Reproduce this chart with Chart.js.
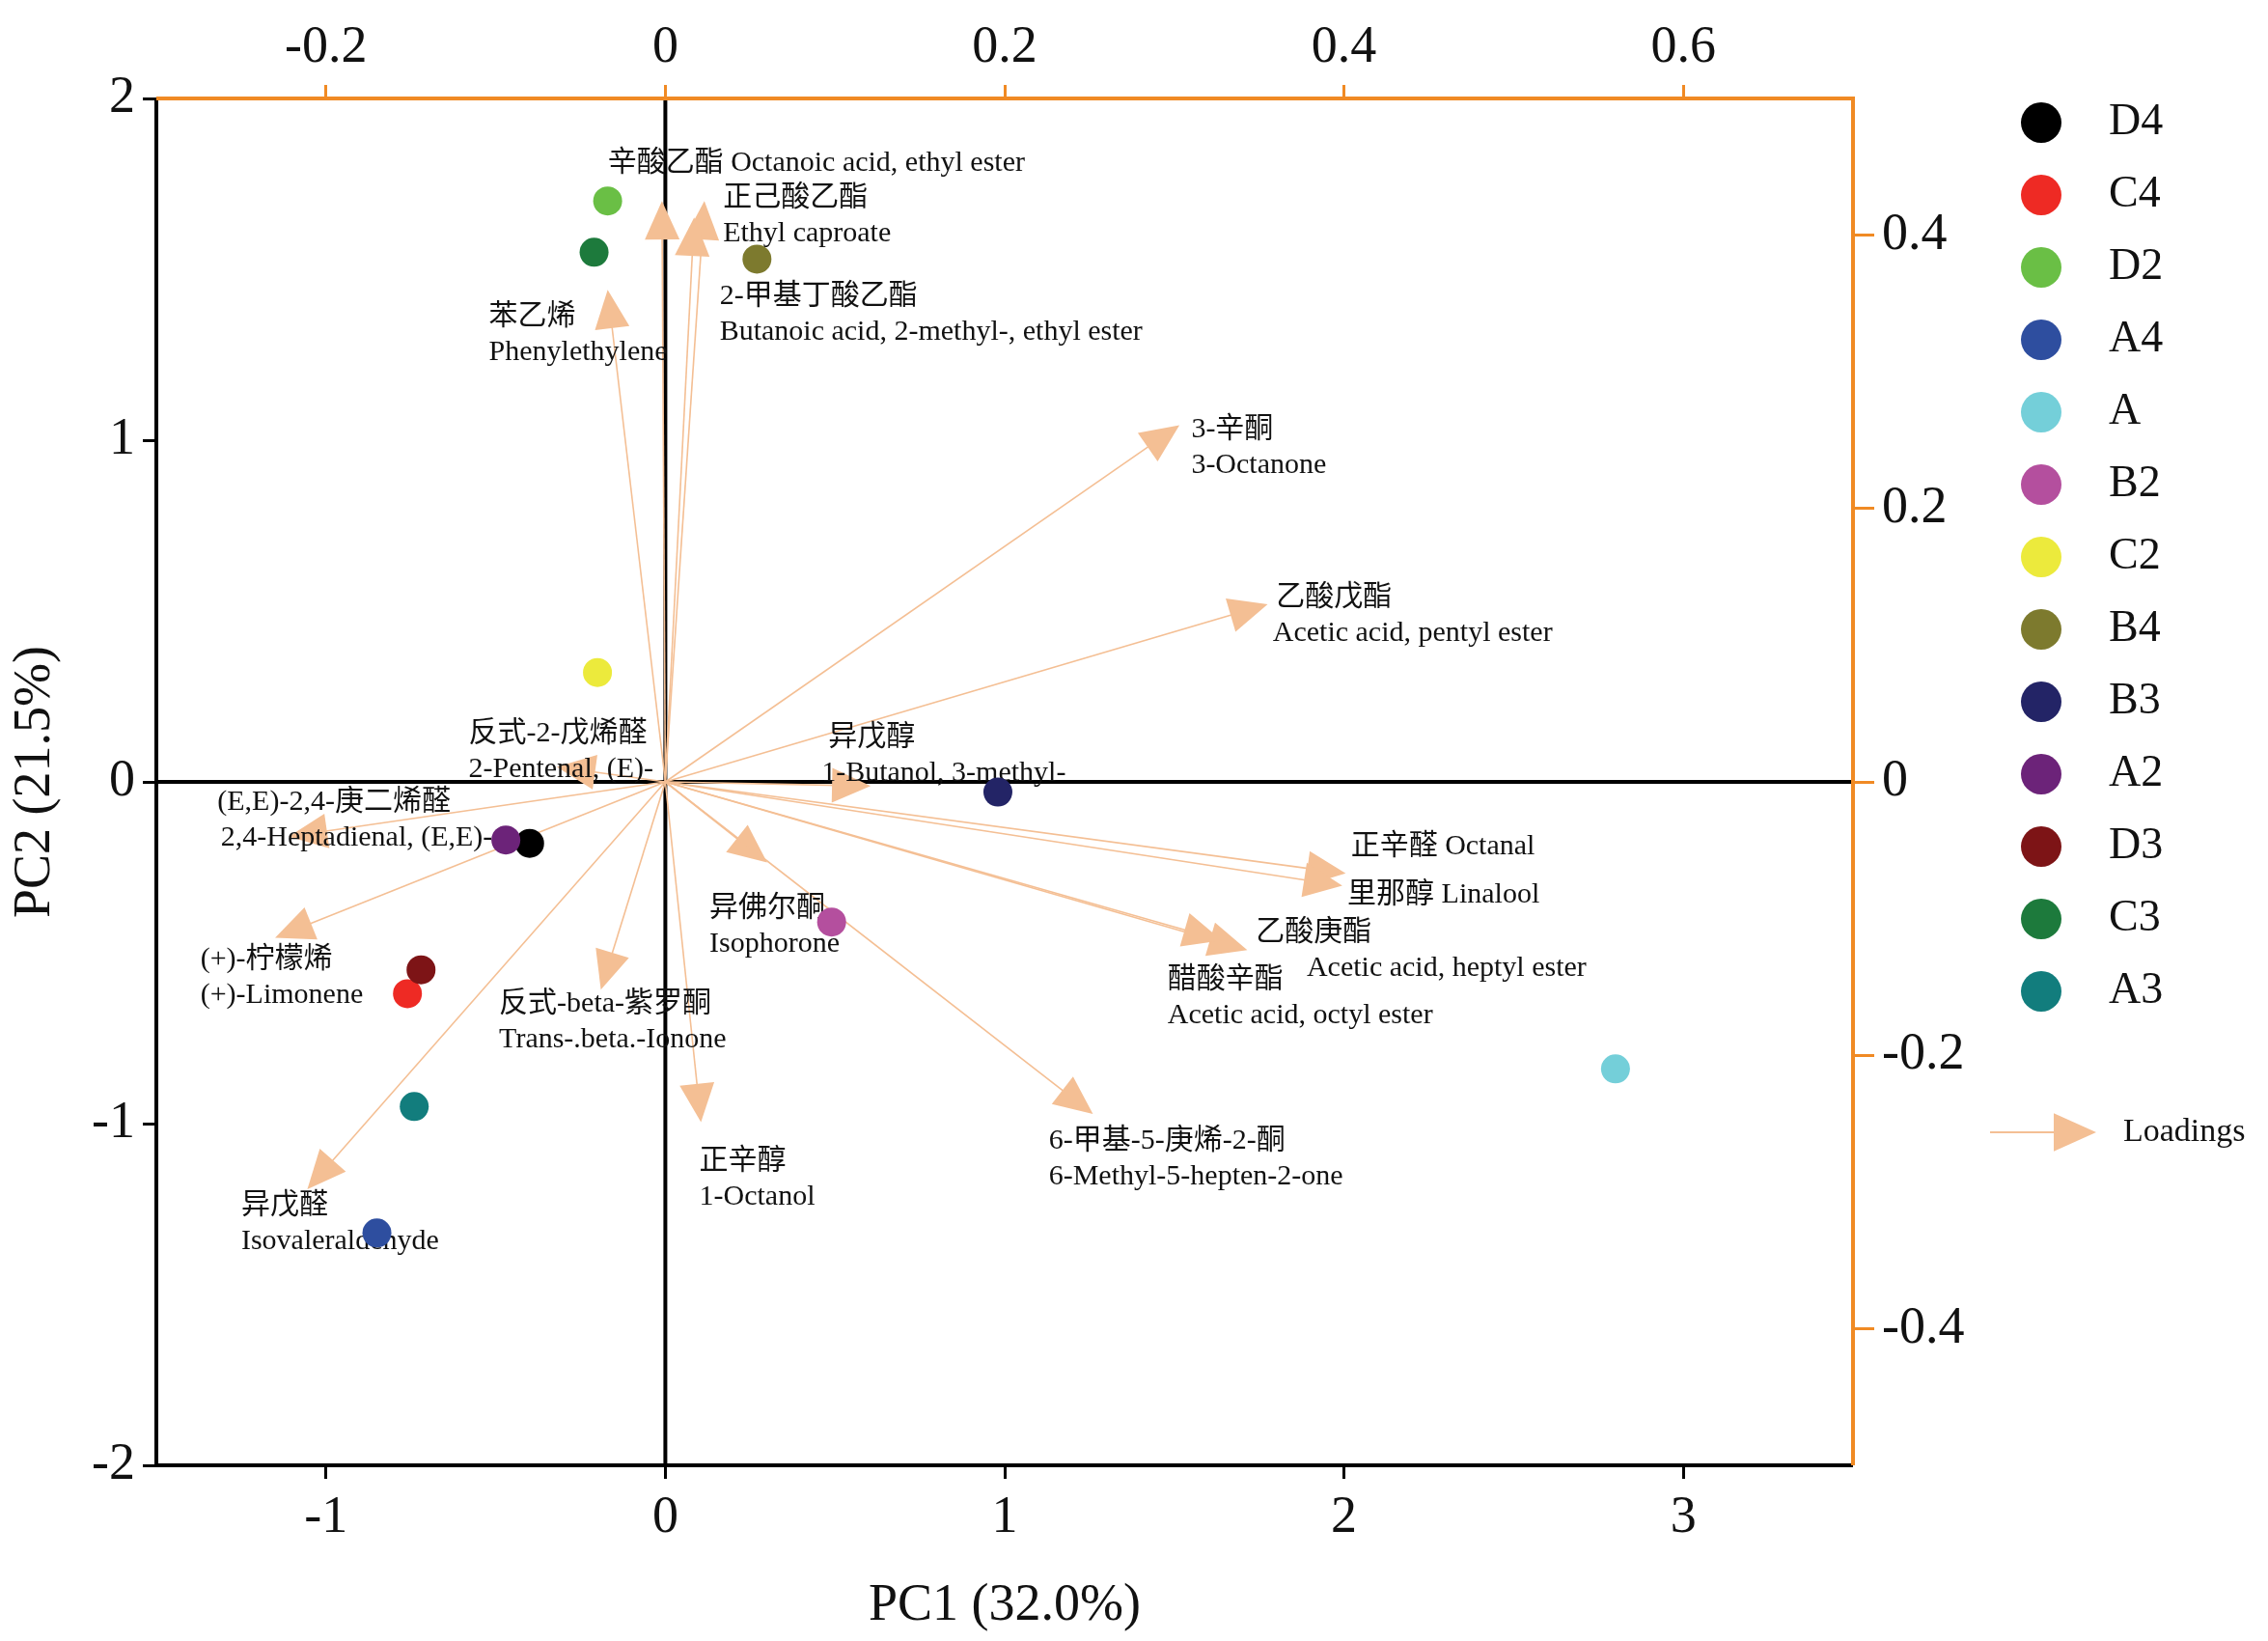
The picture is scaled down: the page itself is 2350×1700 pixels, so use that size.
<!DOCTYPE html>
<html>
<head>
<meta charset="utf-8">
<script src="https://cdn.jsdelivr.net/npm/chart.js@4"></script>
<style>
  html, body { margin: 0; padding: 0; background: #fff; }
  #wrap { width: 2350px; height: 1700px; }
</style>
</head>
<body>
<div id="wrap"><canvas id="biplot"></canvas></div>
<script>
// sample scores (PC1, PC2)
const sampleNames = ["D4", "C4", "D2", "A4", "A", "B2", "C2", "B4", "B3", "A2", "D3", "C3", "A3"];
const sampleColors = ["#000000", "#ee2a24", "#6abf45", "#2e4e9f", "#74cfd9", "#b44f9e", "#ecea3c", "#7d7a2e", "#232466", "#6c2379", "#7d1416", "#1d7a3c", "#127d7d"];
const scoreX = [-0.40, -0.76, -0.17, -0.85, 2.80, 0.49, -0.20, 0.27, 0.98, -0.47, -0.72, -0.21, -0.74];
const scoreY = [-0.18, -0.62, 1.70, -1.32, -0.84, -0.41, 0.32, 1.53, -0.03, -0.17, -0.55, 1.55, -0.95];

// loadings (top / right axes)
const loadingCn = ["辛酸乙酯 Octanoic acid, ethyl ester", "正己酸乙酯", "2-甲基丁酸乙酯", "苯乙烯", "3-辛酮", "乙酸戊酯", "异戊醇",
  "反式-2-戊烯醛", "(E,E)-2,4-庚二烯醛", "正辛醛 Octanal", "里那醇 Linalool", "乙酸庚酯", "醋酸辛酯", "异佛尔酮",
  "(+)-柠檬烯", "反式-beta-紫罗酮", "正辛醇", "6-甲基-5-庚烯-2-酮", "异戊醛"];
const loadingEn = ["", "Ethyl caproate", "Butanoic acid, 2-methyl-, ethyl ester", "Phenylethylene", "3-Octanone", "Acetic acid, pentyl ester",
  "1-Butanol, 3-methyl-", "2-Pentenal, (E)-", "2,4-Heptadienal, (E,E)-", "", "", "Acetic acid, heptyl ester", "Acetic acid, octyl ester",
  "Isophorone", "(+)-Limonene", "Trans-.beta.-Ionone", "1-Octanol", "6-Methyl-5-hepten-2-one", "Isovaleraldehyde"];
const loadingX = [-0.002, 0.023, 0.017, -0.034, 0.303, 0.355, 0.121, -0.064, -0.222, 0.401, 0.399, 0.343, 0.328, 0.060, -0.230, -0.038, 0.021, 0.252, -0.211];
const loadingY = [0.425, 0.425, 0.413, 0.360, 0.261, 0.130, -0.003, 0.011, -0.040, -0.067, -0.076, -0.123, -0.116, -0.059, -0.114, -0.152, -0.249, -0.243, -0.298];
// label anchors in score units (second line may shift right)
const labelX = [-0.17, 0.17, 0.16, -0.52, 1.55, 1.80, 0.48, -0.58, -1.32, 2.02, 2.01, 1.74, 1.48, 0.13, -1.37, -0.49, 0.10, 1.13, -1.25];
const labelY = [1.81, 1.71, 1.42, 1.36, 1.03, 0.54, 0.13, 0.14, -0.06, -0.19, -0.33, -0.44, -0.58, -0.37, -0.52, -0.65, -1.11, -1.05, -1.24];
const label2Shift = [0, 0, 0, 0, 0, -0.01, -0.02, 0, 0.01, 0, 0, 0.15, 0, 0, 0, 0, 0, 0, 0];

const ORANGE = "#f08a24";
const ARROW = "#f4bf94";
const SERIF = "'Liberation Serif', 'Noto Sans CJK SC', serif";

function drawArrow(ctx, x0, y0, x1, y1, head, lw) {
  const a = Math.atan2(y1 - y0, x1 - x0);
  ctx.strokeStyle = ARROW; ctx.fillStyle = ARROW; ctx.lineWidth = lw;
  ctx.beginPath(); ctx.moveTo(x0, y0); ctx.lineTo(x1 - Math.cos(a) * head * 0.8, y1 - Math.sin(a) * head * 0.8); ctx.stroke();
  ctx.beginPath();
  ctx.moveTo(x1, y1);
  ctx.lineTo(x1 - head * Math.cos(a) + head * 0.45 * Math.sin(a), y1 - head * Math.sin(a) - head * 0.45 * Math.cos(a));
  ctx.lineTo(x1 - head * Math.cos(a) - head * 0.45 * Math.sin(a), y1 - head * Math.sin(a) + head * 0.45 * Math.cos(a));
  ctx.closePath(); ctx.fill();
}

const biplotPlugin = {
  id: "biplot",
  beforeDatasetsDraw(chart) {
    const { ctx, chartArea: ca, scales } = chart;
    ctx.save();
    // zero lines
    ctx.strokeStyle = "#000"; ctx.lineWidth = 4;
    const x0 = scales.x.getPixelForValue(0), y0 = scales.y.getPixelForValue(0);
    ctx.beginPath(); ctx.moveTo(x0, ca.top); ctx.lineTo(x0, ca.bottom);
    ctx.moveTo(ca.left, y0); ctx.lineTo(ca.right, y0); ctx.stroke();
    // loading arrows
    loadingX.forEach((lx, i) => {
      drawArrow(ctx, scales.x2.getPixelForValue(0), scales.y2.getPixelForValue(0),
        scales.x2.getPixelForValue(lx), scales.y2.getPixelForValue(loadingY[i]), 40, 1.6);
    });
    // labels
    ctx.fillStyle = "#111"; ctx.font = "30px " + SERIF; ctx.textBaseline = "middle"; ctx.textAlign = "left";
    loadingCn.forEach((t, i) => {
      const px = scales.x.getPixelForValue(labelX[i]), py = scales.y.getPixelForValue(labelY[i]);
      ctx.fillText(t, px, py);
      if (loadingEn[i]) ctx.fillText(loadingEn[i], scales.x.getPixelForValue(labelX[i] + label2Shift[i]), py + 37);
    });
    ctx.restore();
  },
  afterDraw(chart) {
    const { ctx, chartArea: ca } = chart;
    ctx.save();
    // frame: left/bottom black, top/right orange
    ctx.lineWidth = 4;
    ctx.strokeStyle = "#000";
    ctx.beginPath(); ctx.moveTo(ca.left, ca.top); ctx.lineTo(ca.left, ca.bottom); ctx.lineTo(ca.right, ca.bottom); ctx.stroke();
    ctx.strokeStyle = ORANGE;
    ctx.beginPath(); ctx.moveTo(ca.left, ca.top); ctx.lineTo(ca.right, ca.top); ctx.lineTo(ca.right, ca.bottom); ctx.stroke();
    // legend
    ctx.font = "46px " + SERIF; ctx.textBaseline = "middle"; ctx.textAlign = "left";
    sampleNames.forEach((n, i) => {
      const y = 127 + i * 75;
      ctx.fillStyle = sampleColors[i];
      ctx.beginPath(); ctx.arc(2115, y, 21, 0, Math.PI * 2); ctx.fill();
      ctx.fillStyle = "#111"; ctx.fillText(n, 2185, y);
    });
    drawArrow(ctx, 2062, 1173, 2172, 1173, 44, 1.8);
    ctx.fillStyle = "#111"; ctx.font = "34px " + SERIF; ctx.fillText("Loadings", 2200, 1173);
    ctx.restore();
  }
};

const tickFont = { family: SERIF, size: 54 };

new Chart(document.getElementById("biplot"), {
  type: "scatter",
  data: {
    datasets: [{
      data: scoreX.map((x, i) => ({ x, y: scoreY[i] })),
      backgroundColor: sampleColors,
      borderWidth: 0,
      pointRadius: 15,
      xAxisID: "x", yAxisID: "y",
    }],
  },
  options: {
    responsive: true,
    maintainAspectRatio: false,
    animation: false,
    plugins: { legend: { display: false }, tooltip: { enabled: false } },
    layout: { padding: 0 },
    scales: {
      x: {
        position: "bottom", min: -1.5, max: 3.5,
        afterBuildTicks: s => { s.ticks = [-1, 0, 1, 2, 3].map(v => ({ value: v })); },
        afterFit: s => { s.height = 182; },
        grid: { drawOnChartArea: false, color: "#000", lineWidth: 3, tickLength: 14 },
        border: { display: false },
        ticks: { font: tickFont, color: "#111", padding: 8 },
        title: { display: true, text: "PC1 (32.0%)", font: { family: SERIF, size: 54 }, color: "#111", padding: { top: 8 } },
      },
      y: {
        position: "left", min: -2, max: 2,
        afterBuildTicks: s => { s.ticks = [-2, -1, 0, 1, 2].map(v => ({ value: v })); },
        afterFit: s => { s.width = 162; },
        grid: { drawOnChartArea: false, color: "#000", lineWidth: 3, tickLength: 14 },
        border: { display: false },
        ticks: { font: tickFont, color: "#111", padding: 8 },
        title: { display: true, text: "PC2 (21.5%)", font: { family: SERIF, size: 54 }, color: "#111", padding: { bottom: 4 } },
      },
      x2: {
        position: "top", min: -0.3, max: 0.7,
        afterBuildTicks: s => { s.ticks = [-0.2, 0, 0.2, 0.4, 0.6].map(v => ({ value: v })); },
        afterFit: s => { s.height = 102; },
        grid: { drawOnChartArea: false, color: ORANGE, lineWidth: 3, tickLength: 14 },
        border: { display: false },
        ticks: { font: tickFont, color: "#111", padding: 6, callback: v => +v.toFixed(1) },
      },
      y2: {
        position: "right", min: -0.5, max: 0.5,
        afterBuildTicks: s => { s.ticks = [-0.4, -0.2, 0, 0.2, 0.4].map(v => ({ value: v })); },
        afterFit: s => { s.width = 430; },
        grid: { drawOnChartArea: false, color: ORANGE, lineWidth: 3, tickLength: 22 },
        border: { display: false },
        ticks: { font: tickFont, color: "#111", padding: 8, callback: v => +v.toFixed(1) },
      },
    },
  },
  plugins: [biplotPlugin],
});
</script>
</body>
</html>
